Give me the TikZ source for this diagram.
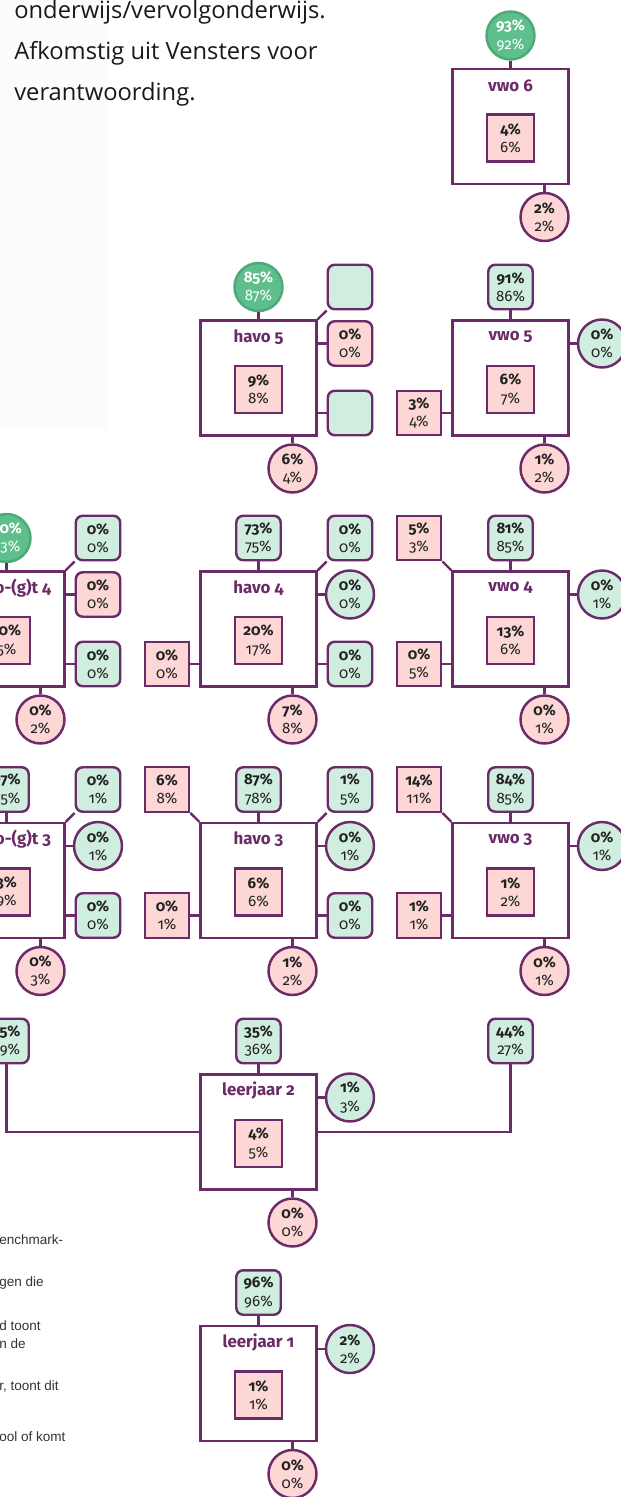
\documentclass[tikz,border=0pt]{standalone}
\usepackage{fontspec}
\setmainfont{Fira Sans}[Numbers=OldStyle]
\newfontfamily\opensans{Open Sans}
\newfontfamily\arialfont{Liberation Sans}

\definecolor{paars}{HTML}{6B2A68}
\definecolor{mintgroen}{HTML}{CFEEE0}
\definecolor{roze}{HTML}{FDD6D6}
\definecolor{groen}{HTML}{5EBE8C}
\definecolor{groenrand}{HTML}{4DAA78}
\definecolor{tekst}{HTML}{222222}
\definecolor{grijs}{HTML}{333333}
\definecolor{achtergrond}{HTML}{FCFCFC}

\newcommand{\waarden}[2]{\textbf{#1\%}\\#2\%}

\tikzset{
  lijn/.style={draw=paars, line width=1.4pt},
  klas/.style={rectangle, draw=paars, line width=1.4pt, fill=white, minimum width=2.32cm, minimum height=2.3cm},
  titel/.style={text=paars, inner sep=0pt, font=\fontsize{9.6}{11}\selectfont\bfseries},
  getal/.style={draw=paars, line width=1.4pt, align=center, inner sep=0pt, text=tekst, font=\fontsize{8.6}{10.4}\selectfont},
  binnen/.style={getal, rectangle, fill=roze, minimum size=0.94cm},
  vak/.style={getal, rectangle, minimum size=0.89cm},
  hoekig/.style={vak, rounded corners=4pt},
  rond/.style={getal, circle, minimum size=0.96cm},
  mint/.style={fill=mintgroen},
  roos/.style={fill=roze},
  vol/.style={fill=groen, draw=groenrand, text=white},
  tekstblok/.style={anchor=base west, inner sep=0pt, text=black!90, font=\opensans\fontsize{13.5}{23}\selectfont},
  voettekst/.style={anchor=base west, inner sep=0pt, text=grijs, font=\arialfont\fontsize{7.7}{9}\selectfont}
}

\begin{document}
\begin{tikzpicture}[x=0.02cm, y=-0.02cm]
  \useasboundingbox (0,0) rectangle (620,1497);
  \fill[achtergrond] (0,0) rectangle (108,430);

  % tekst links
  \node[tekstblok] (regel1) at (14,18.5) {onderwijs/vervolgonderwijs.};
  \node[tekstblok] (regel2) at (14,60) {Afkomstig uit Vensters voor};
  \node[tekstblok] (regel3) at (14,101) {verantwoording.};

  \node[voettekst] (voet1) at (-1,1244) {enchmark-};
  \node[voettekst] (voet2) at (-1,1286) {gen die};
  \node[voettekst] (voet3) at (-1,1330) {d toont};
  \node[voettekst] (voet4) at (-1,1348) {n de};
  \node[voettekst] (voet5) at (-1,1390) {r, toont dit};
  \node[voettekst] (voet6) at (-1,1441) {ool of komt};

  % vwo 6
  \node[klas] (vwo6) at (510.5,126.5) {};
  \node[titel] (vwo6-titel) at (510.5,85.5) {vwo 6};
  \node[rond, vol] (vwo6-top) at (510.5,35.5) {\waarden{93}{92}};
  \node[binnen] (vwo6-in) at (510.5,138) {\waarden{4}{6}};
  \node[rond, roos] (vwo6-uit) at (544.5,217) {\waarden{2}{2}};
  \draw[lijn] (vwo6-top) -- (vwo6);
  \draw[lijn] (vwo6.south -| vwo6-uit) -- (vwo6-uit);

  % havo 5
  \node[klas] (havo5) at (258.5,378) {};
  \node[titel] (havo5-titel) at (258.5,337) {havo 5};
  \node[rond, vol] (havo5-top) at (258.5,287) {\waarden{85}{87}};
  \node[hoekig, mint] (havo5-rb) at (350,287) {};
  \node[hoekig, roos] (havo5-rm) at (350,343.5) {\waarden{0}{0}};
  \node[hoekig, mint] (havo5-ro) at (350,413) {};
  \node[binnen] (havo5-in) at (258.5,389.5) {\waarden{9}{8}};
  \node[rond, roos] (havo5-uit) at (292.5,468.5) {\waarden{6}{4}};
  \draw[lijn] (havo5-top) -- (havo5);
  \draw[lijn] (havo5.north east) -- (havo5-rb);
  \draw[lijn] (havo5.east |- havo5-rm) -- (havo5-rm);
  \draw[lijn] (havo5.east |- havo5-ro) -- (havo5-ro);
  \draw[lijn] (havo5.south -| havo5-uit) -- (havo5-uit);

  % vwo 5
  \node[klas] (vwo5) at (510.5,378) {};
  \node[titel] (vwo5-titel) at (510.5,337) {vwo 5};
  \node[hoekig, mint] (vwo5-top) at (510.5,287) {\waarden{91}{86}};
  \node[rond, mint] (vwo5-rm) at (602,343.5) {\waarden{0}{0}};
  \node[vak, roos] (vwo5-lo) at (419,413) {\waarden{3}{4}};
  \node[binnen] (vwo5-in) at (510.5,389.5) {\waarden{6}{7}};
  \node[rond, roos] (vwo5-uit) at (544.5,468.5) {\waarden{1}{2}};
  \draw[lijn] (vwo5-top) -- (vwo5);
  \draw[lijn] (vwo5.east |- vwo5-rm) -- (vwo5-rm);
  \draw[lijn] (vwo5.west |- vwo5-lo) -- (vwo5-lo);
  \draw[lijn] (vwo5.south -| vwo5-uit) -- (vwo5-uit);

  % vmbo-(g)t 4
  \node[klas] (vmbo4) at (6.5,629) {};
  \node[titel] (vmbo4-titel) at (6.5,588) {vmbo-(g)t 4};
  \node[rond, vol] (vmbo4-top) at (6.5,538) {\waarden{90}{93}};
  \node[hoekig, mint] (vmbo4-rb) at (98,538) {\waarden{0}{0}};
  \node[hoekig, roos] (vmbo4-rm) at (98,594.5) {\waarden{0}{0}};
  \node[hoekig, mint] (vmbo4-ro) at (98,664) {\waarden{0}{0}};
  \node[binnen] (vmbo4-in) at (6.5,640.5) {\waarden{10}{5}};
  \node[rond, roos] (vmbo4-uit) at (40.5,719.5) {\waarden{0}{2}};
  \draw[lijn] (vmbo4-top) -- (vmbo4);
  \draw[lijn] (vmbo4.north east) -- (vmbo4-rb);
  \draw[lijn] (vmbo4.east |- vmbo4-rm) -- (vmbo4-rm);
  \draw[lijn] (vmbo4.east |- vmbo4-ro) -- (vmbo4-ro);
  \draw[lijn] (vmbo4.south -| vmbo4-uit) -- (vmbo4-uit);

  % havo 4
  \node[klas] (havo4) at (258.5,629) {};
  \node[titel] (havo4-titel) at (258.5,588) {havo 4};
  \node[hoekig, mint] (havo4-top) at (258.5,538) {\waarden{73}{75}};
  \node[hoekig, mint] (havo4-rb) at (350,538) {\waarden{0}{0}};
  \node[rond, mint] (havo4-rm) at (350,594.5) {\waarden{0}{0}};
  \node[hoekig, mint] (havo4-ro) at (350,664) {\waarden{0}{0}};
  \node[vak, roos] (havo4-lo) at (167,664) {\waarden{0}{0}};
  \node[binnen] (havo4-in) at (258.5,640.5) {\waarden{20}{17}};
  \node[rond, roos] (havo4-uit) at (292.5,719.5) {\waarden{7}{8}};
  \draw[lijn] (havo4-top) -- (havo4);
  \draw[lijn] (havo4.north east) -- (havo4-rb);
  \draw[lijn] (havo4.east |- havo4-rm) -- (havo4-rm);
  \draw[lijn] (havo4.east |- havo4-ro) -- (havo4-ro);
  \draw[lijn] (havo4.west |- havo4-lo) -- (havo4-lo);
  \draw[lijn] (havo4.south -| havo4-uit) -- (havo4-uit);

  % vwo 4
  \node[klas] (vwo4) at (510.5,629) {};
  \node[titel] (vwo4-titel) at (510.5,588) {vwo 4};
  \node[hoekig, mint] (vwo4-top) at (510.5,538) {\waarden{81}{85}};
  \node[vak, roos] (vwo4-lb) at (419,538) {\waarden{5}{3}};
  \node[rond, mint] (vwo4-rm) at (602,594.5) {\waarden{0}{1}};
  \node[vak, roos] (vwo4-lo) at (419,664) {\waarden{0}{5}};
  \node[binnen] (vwo4-in) at (510.5,640.5) {\waarden{13}{6}};
  \node[rond, roos] (vwo4-uit) at (544.5,719.5) {\waarden{0}{1}};
  \draw[lijn] (vwo4-top) -- (vwo4);
  \draw[lijn] (vwo4.north west) -- (vwo4-lb);
  \draw[lijn] (vwo4.east |- vwo4-rm) -- (vwo4-rm);
  \draw[lijn] (vwo4.west |- vwo4-lo) -- (vwo4-lo);
  \draw[lijn] (vwo4.south -| vwo4-uit) -- (vwo4-uit);

  % vmbo-(g)t 3
  \node[klas] (vmbo3) at (6.5,880.5) {};
  \node[titel] (vmbo3-titel) at (6.5,839.5) {vmbo-(g)t 3};
  \node[hoekig, mint] (vmbo3-top) at (6.5,789.5) {\waarden{97}{85}};
  \node[hoekig, mint] (vmbo3-rb) at (98,789.5) {\waarden{0}{1}};
  \node[rond, mint] (vmbo3-rm) at (98,846) {\waarden{0}{1}};
  \node[hoekig, mint] (vmbo3-ro) at (98,915.5) {\waarden{0}{0}};
  \node[binnen] (vmbo3-in) at (6.5,892) {\waarden{3}{9}};
  \node[rond, roos] (vmbo3-uit) at (40.5,971) {\waarden{0}{3}};
  \draw[lijn] (vmbo3-top) -- (vmbo3);
  \draw[lijn] (vmbo3.north east) -- (vmbo3-rb);
  \draw[lijn] (vmbo3.east |- vmbo3-rm) -- (vmbo3-rm);
  \draw[lijn] (vmbo3.east |- vmbo3-ro) -- (vmbo3-ro);
  \draw[lijn] (vmbo3.south -| vmbo3-uit) -- (vmbo3-uit);

  % havo 3
  \node[klas] (havo3) at (258.5,880.5) {};
  \node[titel] (havo3-titel) at (258.5,839.5) {havo 3};
  \node[hoekig, mint] (havo3-top) at (258.5,789.5) {\waarden{87}{78}};
  \node[vak, roos] (havo3-lb) at (167,789.5) {\waarden{6}{8}};
  \node[hoekig, mint] (havo3-rb) at (350,789.5) {\waarden{1}{5}};
  \node[rond, mint] (havo3-rm) at (350,846) {\waarden{0}{1}};
  \node[hoekig, mint] (havo3-ro) at (350,915.5) {\waarden{0}{0}};
  \node[vak, roos] (havo3-lo) at (167,915.5) {\waarden{0}{1}};
  \node[binnen] (havo3-in) at (258.5,892) {\waarden{6}{6}};
  \node[rond, roos] (havo3-uit) at (292.5,971) {\waarden{1}{2}};
  \draw[lijn] (havo3-top) -- (havo3);
  \draw[lijn] (havo3.north west) -- (havo3-lb);
  \draw[lijn] (havo3.north east) -- (havo3-rb);
  \draw[lijn] (havo3.east |- havo3-rm) -- (havo3-rm);
  \draw[lijn] (havo3.east |- havo3-ro) -- (havo3-ro);
  \draw[lijn] (havo3.west |- havo3-lo) -- (havo3-lo);
  \draw[lijn] (havo3.south -| havo3-uit) -- (havo3-uit);

  % vwo 3
  \node[klas] (vwo3) at (510.5,880.5) {};
  \node[titel] (vwo3-titel) at (510.5,839.5) {vwo 3};
  \node[hoekig, mint] (vwo3-top) at (510.5,789.5) {\waarden{84}{85}};
  \node[vak, roos] (vwo3-lb) at (419,789.5) {\waarden{14}{11}};
  \node[rond, mint] (vwo3-rm) at (602,846) {\waarden{0}{1}};
  \node[vak, roos] (vwo3-lo) at (419,915.5) {\waarden{1}{1}};
  \node[binnen] (vwo3-in) at (510.5,892) {\waarden{1}{2}};
  \node[rond, roos] (vwo3-uit) at (544.5,971) {\waarden{0}{1}};
  \draw[lijn] (vwo3-top) -- (vwo3);
  \draw[lijn] (vwo3.north west) -- (vwo3-lb);
  \draw[lijn] (vwo3.east |- vwo3-rm) -- (vwo3-rm);
  \draw[lijn] (vwo3.west |- vwo3-lo) -- (vwo3-lo);
  \draw[lijn] (vwo3.south -| vwo3-uit) -- (vwo3-uit);

  % leerjaar 2
  \node[klas] (lj2) at (258.5,1132) {};
  \node[titel] (lj2-titel) at (258.5,1091) {leerjaar 2};
  \node[hoekig, mint] (lj2-top) at (258.5,1041) {\waarden{35}{36}};
  \node[hoekig, mint] (lj2-vmbo) at (6.5,1041) {\waarden{15}{29}};
  \node[hoekig, mint] (lj2-vwo) at (510.5,1041) {\waarden{44}{27}};
  \node[rond, mint] (lj2-rm) at (350,1097.5) {\waarden{1}{3}};
  \node[binnen] (lj2-in) at (258.5,1143.5) {\waarden{4}{5}};
  \node[rond, roos] (lj2-uit) at (292.5,1222.5) {\waarden{0}{0}};
  \draw[lijn] (lj2-top) -- (lj2);
  \draw[lijn] (lj2.west) -| (lj2-vmbo);
  \draw[lijn] (lj2.east) -| (lj2-vwo);
  \draw[lijn] (lj2.east |- lj2-rm) -- (lj2-rm);
  \draw[lijn] (lj2.south -| lj2-uit) -- (lj2-uit);

  % leerjaar 1
  \node[klas] (lj1) at (258.5,1383.5) {};
  \node[titel] (lj1-titel) at (258.5,1342.5) {leerjaar 1};
  \node[hoekig, mint] (lj1-top) at (258.5,1292.5) {\waarden{96}{96}};
  \node[rond, mint] (lj1-rm) at (350,1349) {\waarden{2}{2}};
  \node[binnen] (lj1-in) at (258.5,1395) {\waarden{1}{1}};
  \node[rond, roos] (lj1-uit) at (292.5,1474) {\waarden{0}{0}};
  \draw[lijn] (lj1-top) -- (lj1);
  \draw[lijn] (lj1.east |- lj1-rm) -- (lj1-rm);
  \draw[lijn] (lj1.south -| lj1-uit) -- (lj1-uit);
\end{tikzpicture}
\end{document}
